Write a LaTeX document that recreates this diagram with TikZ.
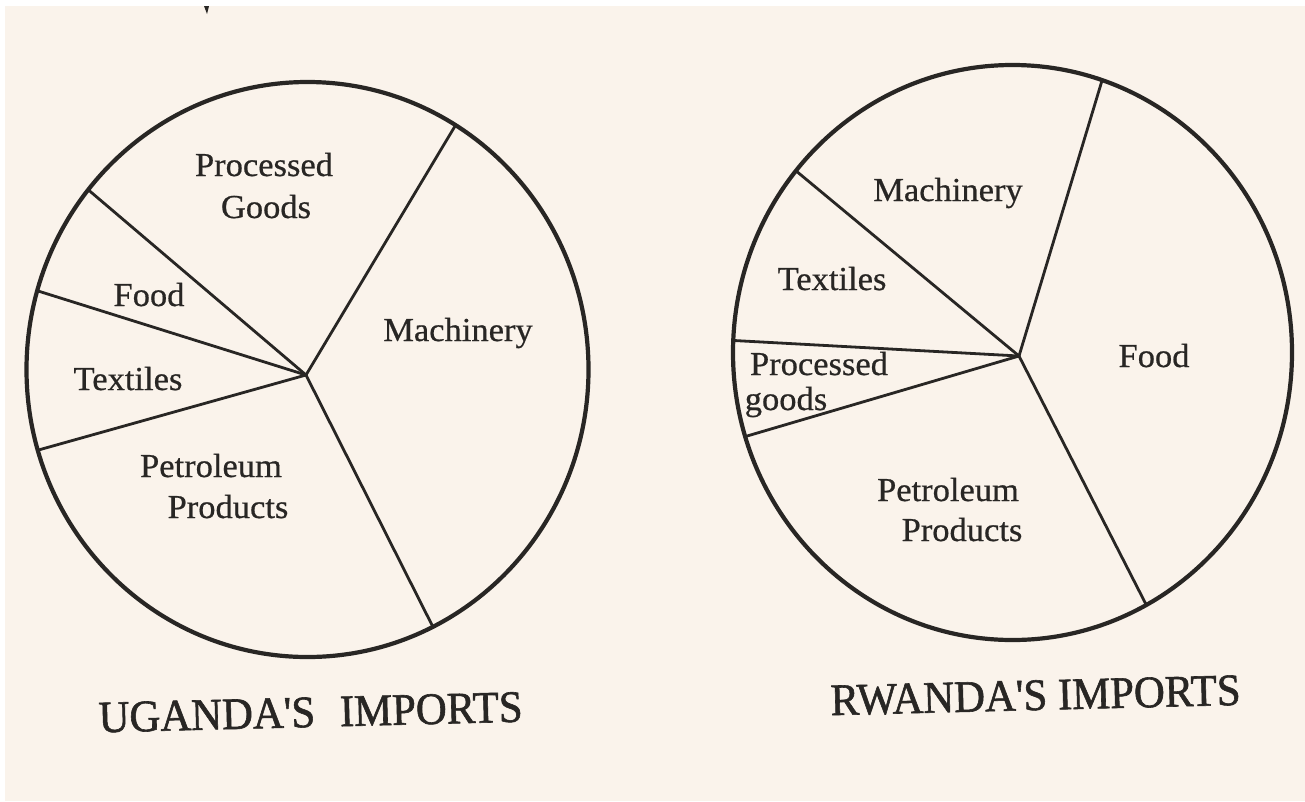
\documentclass[tikz,border=0pt]{standalone}
\usepackage{fontspec}
\setmainfont{Liberation Serif}
\newfontfamily\lblfont[FakeStretch=1.03,FakeBold=0.6]{Liberation Serif}
\newfontfamily\ttlfont[FakeStretch=0.95,FakeBold=1.3]{Liberation Serif}
\definecolor{paper}{RGB}{250,243,235}
\definecolor{ink}{RGB}{40,38,36}
\begin{document}
\begin{tikzpicture}[x=1pt,y=-1pt,
  rim/.style={draw=ink,line width=4.2pt},
  spoke/.style={draw=ink,line width=2.8pt,line cap=round},
  lbl/.style={inner sep=0pt,anchor=base,text=ink,font=\lblfont\fontsize{33.5}{40}\selectfont},
  ttl/.style={inner sep=0pt,anchor=base,text=ink,font=\ttlfont\fontsize{45}{50}\selectfont,rotate=1.45}]
\useasboundingbox (0,0) rectangle (1305,801);
\fill[white] (0,0) rectangle (1305,801);
\fill[paper] (5,6) rectangle (1305,801);
\fill[ink] (204,6) -- (209,6) -- (207,14) -- cycle;

% ---------- Uganda ----------
\coordinate (hubL) at (306,375);
\coordinate (uPM) at ({307.5+281*cos(58.2)},{369.5-287.5*sin(58.2)});
\coordinate (uPF) at ({307.5+281*cos(141.3)},{369.5-287.5*sin(141.3)});
\coordinate (uFT) at ({307.5+281*cos(164.1)},{369.5-287.5*sin(164.1)});
\coordinate (uTP) at ({307.5+281*cos(196.3)},{369.5-287.5*sin(196.3)});
\coordinate (uPeM) at ({307.5+281*cos(296.5)},{369.5-287.5*sin(296.5)});
\draw[spoke] (hubL) -- (uPM);
\draw[spoke] (hubL) -- (uPF);
\draw[spoke] (hubL) -- (uFT);
\draw[spoke] (hubL) -- (uTP);
\draw[spoke] (hubL) -- (uPeM);
\draw[rim] (307.5,369.5) ellipse [x radius=281pt, y radius=287.5pt];

\node[lbl] (uProc) at (264,176) {Processed};
\node[lbl] (uGoods) at (266,218) {Goods};
\node[lbl] (uFood) at (149,306) {Food};
\node[lbl] (uText) at (128,390) {Textiles};
\node[lbl] (uMach) at (458,341) {Machinery};
\node[lbl] (uPet) at (211,477) {Petroleum};
\node[lbl] (uProd) at (228,518) {Products};

% ---------- Rwanda ----------
\coordinate (hubR) at (1019,356);
\coordinate (rMF) at ({1012.5+279.5*cos(71.3)},{352.5-287.5*sin(71.3)});
\coordinate (rMT) at ({1012.5+279.5*cos(140.8)},{352.5-287.5*sin(140.8)});
\coordinate (rTP) at ({1012.5+279.5*cos(177.6)},{352.5-287.5*sin(177.6)});
\coordinate (rPPe) at ({1012.5+279.5*cos(197)},{352.5-287.5*sin(197)});
\coordinate (rPeF) at ({1012.5+279.5*cos(298.6)},{352.5-287.5*sin(298.6)});
\draw[spoke] (hubR) -- (rMF);
\draw[spoke] (hubR) -- (rMT);
\draw[spoke] (hubR) -- (rTP);
\draw[spoke] (hubR) -- (rPPe);
\draw[spoke] (hubR) -- (rPeF);
\draw[rim] (1012.5,352.5) ellipse [x radius=279.5pt, y radius=287.5pt];

\node[lbl] (rMach) at (948,201) {Machinery};
\node[lbl] (rText) at (832,290) {Textiles};
\node[lbl] (rProc) at (819,375) {Processed};
\node[lbl] (rGoods) at (786,410) {goods};
\node[lbl] (rFood) at (1154,367) {Food};
\node[lbl] (rPet) at (948,501) {Petroleum};
\node[lbl] (rProd) at (962,541) {Products};

% ---------- titles ----------
\node[ttl] (tU) at (311,727) {UGANDA'S\hspace{0.55em}IMPORTS};
\node[ttl] (tR) at (1036,710) {RWANDA'S IMPORTS};
\end{tikzpicture}
\end{document}
